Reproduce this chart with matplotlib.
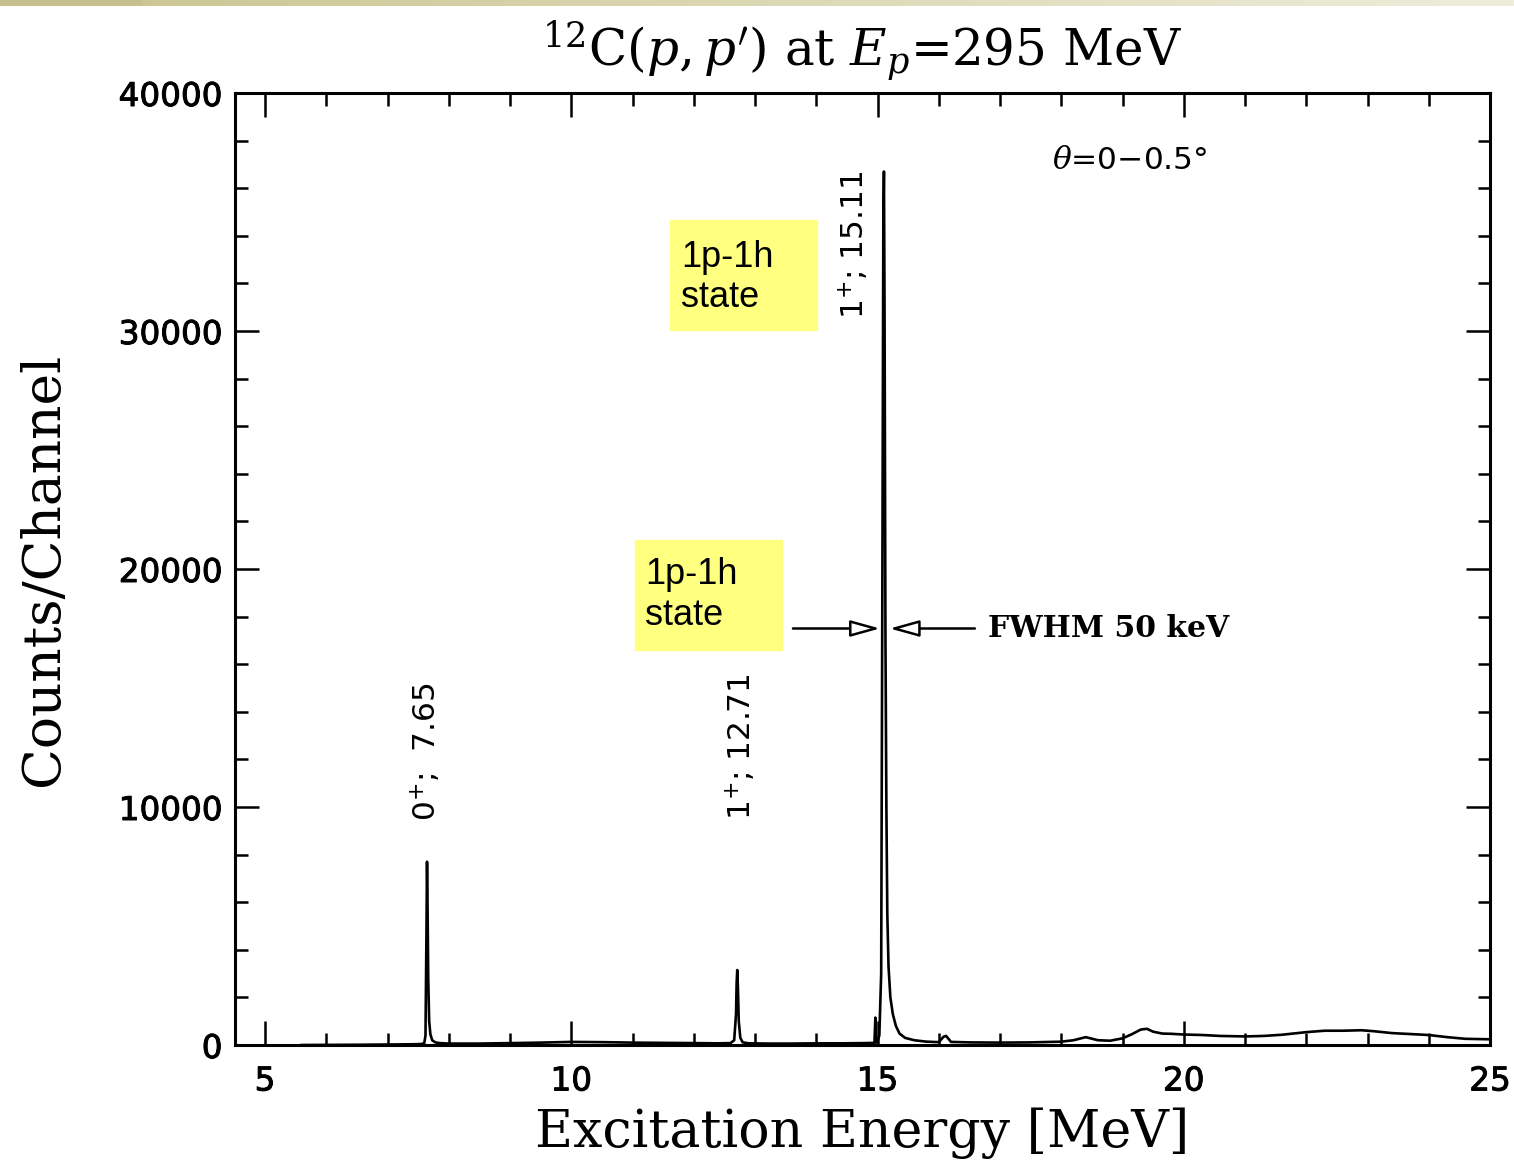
import matplotlib

matplotlib.use("Agg")
import matplotlib.pyplot as plt
import matplotlib.patheffects as pe
import numpy as np
from matplotlib.patches import Rectangle
from matplotlib.ticker import MultipleLocator

# spectrum (excitation energy in MeV, counts per channel)
energy = [
    5.6, 6.0, 6.5, 7.0, 7.4, 7.55, 7.60, 7.62, 7.635, 7.645, 7.655, 7.665,
    7.68, 7.70, 7.73, 7.78, 7.85, 8.0, 8.5, 9.0, 9.5, 10.0, 10.5, 11.0,
    11.5, 12.0, 12.4, 12.60, 12.66, 12.69, 12.70, 12.71, 12.72, 12.735,
    12.76, 12.80, 12.9, 13.2, 13.6, 14.0, 14.4, 14.8, 14.95, 14.965, 14.975,
    14.99, 15.03, 15.06, 15.08, 15.095, 15.105, 15.115, 15.13, 15.145,
    15.16, 15.18, 15.21, 15.25, 15.30, 15.36, 15.45, 15.6, 15.8, 16.0,
    16.08, 16.12, 16.2, 16.5, 17.0, 17.5, 18.0, 18.2, 18.4, 18.6, 18.8,
    19.0, 19.15, 19.3, 19.4, 19.5, 19.65, 19.8, 20.0, 20.3, 20.6, 21.0,
    21.3, 21.6, 22.0, 22.3, 22.6, 22.9, 23.1, 23.4, 23.7, 24.0, 24.3,
    24.6, 25.0,
]
counts = [
    0, 5, 10, 20, 30, 40, 80, 400, 4500, 7700, 5500, 2800,
    1000, 450, 200, 110, 80, 60, 60, 80, 100, 130, 120, 100,
    90, 80, 70, 80, 200, 1300, 2600, 3150, 2500, 1000,
    300, 110, 70, 60, 60, 70, 70, 80, 90, 1150, 120,
    100, 400, 3000, 20000, 34500, 36700, 31000, 17000, 10000,
    5500, 3300, 2000, 1300, 800, 480, 300, 200, 140, 120,
    350, 380, 130, 110, 100, 110, 140, 200, 330, 200, 180,
    280, 450, 650, 680, 560, 480, 470, 440, 420, 380, 360,
    380, 430, 540, 600, 600, 620, 580, 500, 460, 420, 330,
    260, 240,
]

peak_labels = ["0$^{+}$;  7.65", "1$^{+}$; 12.71", "1$^{+}$; 15.11"]
peak_label_x = [7.61, 12.755, 14.6]
peak_label_y = [9400, 9450, 30500]

state_text = "1p-1h\nstate"


def main():
    plt.rcParams["mathtext.fontset"] = "dejavuserif"
    fig = plt.figure(figsize=(15.14, 11.66), dpi=100)
    ax = fig.add_axes([235 / 1514, 1 - 1045 / 1166, 1255 / 1514, 952 / 1166])

    ax.plot(energy, counts, color="black", lw=1.9)

    ax.set_xlim(4.51, 25)
    ax.set_ylim(0, 40000)
    ax.xaxis.set_major_locator(MultipleLocator(5))
    ax.xaxis.set_minor_locator(MultipleLocator(1))
    ax.yaxis.set_major_locator(MultipleLocator(10000))
    ax.yaxis.set_minor_locator(MultipleLocator(2000))
    ax.tick_params(which="both", direction="in", top=True, right=True,
                   width=1.8, labelsize=23.5)
    ax.tick_params(which="major", length=17)
    ax.tick_params(which="minor", length=9)
    ax.tick_params(axis="x", pad=14)
    ax.tick_params(axis="y", pad=9)
    # slightly heavier digits, like the scanned figure
    thick = [pe.withStroke(linewidth=0.7, foreground="black")]
    for lbl in ax.get_xticklabels() + ax.get_yticklabels():
        lbl.set_path_effects(thick)
    for spine in ax.spines.values():
        spine.set_linewidth(2.2)

    ax.set_xlabel("Excitation Energy [MeV]", fontfamily="DejaVu Serif", fontsize=37.5)
    ax.xaxis.set_label_coords(0.5, -0.066)
    ax.set_ylabel("Counts/Channel", fontfamily="DejaVu Serif", fontsize=38.5)
    ax.yaxis.set_label_coords(-0.132, 0.5)
    ax.set_title("$^{12}$C$(p,p')$ at $E_p$=295 MeV",
                 fontfamily="DejaVu Serif", fontsize=36, pad=20)

    # level labels
    for lab, x, y in zip(peak_labels, peak_label_x, peak_label_y):
        ax.text(x, y, lab, rotation=90, ha="center", va="bottom", fontsize=22.5)

    ax.text(17.85, 37170, "$\\theta$=0\u22120.5\u00b0", ha="left", va="center",
            fontsize=22.5)

    # FWHM arrows
    arrow = dict(arrowstyle="-|>,head_length=0.9,head_width=0.25",
                 fc="white", ec="black", lw=1.8, shrinkA=0, shrinkB=0,
                 mutation_scale=20)
    ax.annotate("", xy=(15.04, 17500), xytext=(13.62, 17500), arrowprops=arrow)
    ax.annotate("", xy=(15.2, 17500), xytext=(16.59, 17500), arrowprops=arrow)
    ax.text(16.8, 17500, "FWHM 50 keV", fontfamily="DejaVu Serif",
            fontweight="bold", fontsize=21.5, ha="left", va="center")

    # yellow callouts
    for x0, y0, tx, ty in [(11.61, 30030, 11.79, 32256), (11.04, 16590, 11.20, 18900)]:
        ax.add_patch(Rectangle((x0, y0), 2.40, 4620, color="#ffff80", zorder=1))
        ax.text(tx, ty, state_text, fontfamily="Liberation Sans", fontsize=26,
                ha="left", va="center", zorder=2)

    # slide decoration strip at the top
    bar = fig.add_axes([0, 1 - 6 / 1166, 1, 6 / 1166])
    grad = np.zeros((1, 1514, 3))
    grad[0, :142] = [0.78, 0.76, 0.55]
    grad[0, 142:] = np.linspace([0.80, 0.78, 0.58], [0.93, 0.93, 0.86], 1514 - 142)
    bar.imshow(grad, aspect="auto")
    bar.axis("off")

    fig.savefig("out.png", dpi=100)


if __name__ == "__main__":
    main()
